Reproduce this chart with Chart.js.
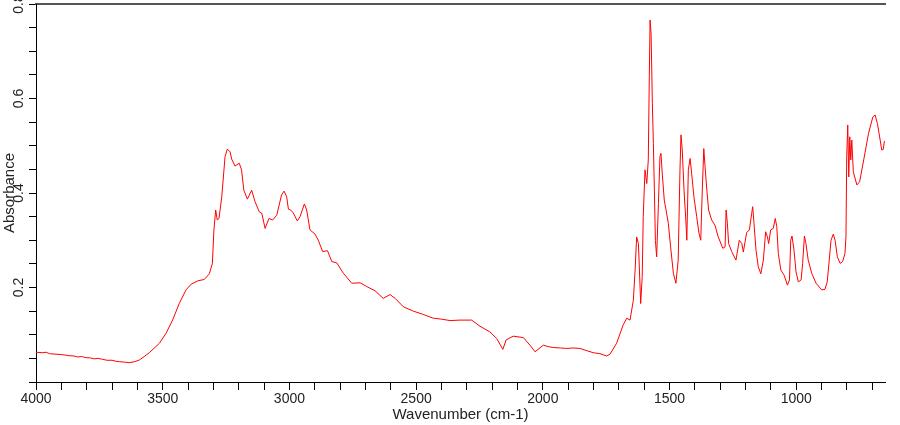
<!DOCTYPE html>
<html>
<head>
<meta charset="utf-8">
<script src="https://cdn.jsdelivr.net/npm/chart.js@4/dist/chart.umd.min.js"></script>
<style>
    body { margin: 0; background: #fff; }
    #wrap { width: 900px; height: 425px; }
</style>
</head>
<body>
<div id="wrap"><canvas id="spectrum"></canvas></div>
<script>
// wavenumber (cm-1) and absorbance
const wavenumbers = [
    4000, 3975, 3960, 3947, 3925, 3900, 3885, 3869, 3850, 3835, 3820, 3803, 3785, 3770, 3755, 3737,
    3720, 3700, 3685, 3671, 3650, 3632, 3610, 3592, 3570, 3553, 3513, 3487, 3461, 3435, 3408, 3388,
    3362, 3336, 3316, 3304, 3298, 3291, 3285, 3278, 3267, 3254, 3245, 3234, 3228, 3215, 3198, 3189,
    3180, 3166, 3149, 3136, 3119, 3109, 3096, 3081, 3066, 3050, 3031, 3021, 3011, 3004, 2995, 2985,
    2969, 2958, 2941, 2932, 2919, 2899, 2886, 2869, 2850, 2833, 2813, 2787, 2754, 2721, 2695, 2662,
    2630, 2603, 2583, 2550, 2511, 2472, 2432, 2400, 2366, 2327, 2281, 2248, 2209, 2182, 2158, 2145,
    2117, 2077, 2051, 2031, 1998, 1980, 1959, 1930, 1906, 1880, 1853, 1825, 1801, 1775, 1748, 1735,
    1709, 1683, 1669, 1656, 1643, 1636, 1630, 1623, 1619, 1614, 1608, 1604, 1597, 1590, 1584, 1580,
    1577, 1573, 1568, 1564, 1560, 1556, 1551, 1544, 1538, 1534, 1529, 1521, 1514, 1505, 1496, 1485,
    1475, 1466, 1459, 1455, 1450, 1443, 1436, 1432, 1426, 1419, 1413, 1404, 1393, 1384, 1377, 1371,
    1365, 1360, 1353, 1346, 1334, 1321, 1308, 1290, 1281, 1277, 1272, 1267, 1255, 1238, 1225, 1215,
    1209, 1196, 1185, 1176, 1172, 1167, 1159, 1150, 1140, 1130, 1121, 1114, 1109, 1101, 1091, 1083,
    1077, 1071, 1061, 1048, 1035, 1027, 1022, 1017, 1009, 1001, 992, 981, 975, 968, 962, 953,
    939, 922, 900, 887, 878, 870, 863, 854, 847, 838, 827, 817, 808, 804, 801, 797,
    793, 789, 785, 781, 775, 761, 750, 734, 715, 698, 689, 680, 669, 663, 657, 653, 650
];
const absorbance = [
    0.063, 0.062, 0.063, 0.060, 0.059, 0.058, 0.057, 0.0557, 0.055, 0.053, 0.054, 0.0515, 0.051, 0.049, 0.050, 0.048,
    0.046, 0.046, 0.044, 0.043, 0.042, 0.041, 0.043, 0.0466, 0.055, 0.062, 0.082, 0.103, 0.131, 0.166, 0.195, 0.207,
    0.214, 0.217, 0.229, 0.251, 0.322, 0.364, 0.343, 0.346, 0.392, 0.477, 0.493, 0.487, 0.472, 0.457, 0.463, 0.449,
    0.406, 0.387, 0.406, 0.382, 0.360, 0.357, 0.325, 0.346, 0.343, 0.353, 0.396, 0.404, 0.392, 0.366, 0.364, 0.358,
    0.341, 0.350, 0.377, 0.364, 0.322, 0.313, 0.300, 0.276, 0.278, 0.255, 0.252, 0.230, 0.209, 0.210, 0.202, 0.193,
    0.177, 0.185, 0.177, 0.159, 0.150, 0.143, 0.135, 0.133, 0.130, 0.131, 0.131, 0.118, 0.106, 0.092, 0.069, 0.089,
    0.097, 0.094, 0.078, 0.064, 0.078, 0.075, 0.073, 0.072, 0.071, 0.072, 0.071, 0.066, 0.062, 0.060, 0.055, 0.059,
    0.082, 0.121, 0.135, 0.131, 0.173, 0.237, 0.307, 0.293, 0.237, 0.166, 0.223, 0.350, 0.449, 0.420, 0.470, 0.646,
    0.766, 0.738, 0.590, 0.505, 0.406, 0.300, 0.265, 0.378, 0.477, 0.484, 0.442, 0.385, 0.364, 0.336, 0.286, 0.230,
    0.209, 0.258, 0.449, 0.523, 0.491, 0.406, 0.343, 0.300, 0.449, 0.473, 0.442, 0.392, 0.350, 0.315, 0.300, 0.406,
    0.494, 0.456, 0.406, 0.364, 0.343, 0.332, 0.307, 0.283, 0.286, 0.364, 0.336, 0.293, 0.276, 0.258, 0.300, 0.293,
    0.275, 0.316, 0.322, 0.357, 0.371, 0.336, 0.279, 0.244, 0.229, 0.258, 0.318, 0.307, 0.293, 0.322, 0.325, 0.346,
    0.329, 0.272, 0.237, 0.226, 0.205, 0.216, 0.300, 0.309, 0.279, 0.233, 0.212, 0.216, 0.251, 0.309, 0.293, 0.258,
    0.230, 0.209, 0.195, 0.196, 0.212, 0.258, 0.300, 0.313, 0.300, 0.265, 0.251, 0.255, 0.272, 0.307, 0.477, 0.544,
    0.434, 0.519, 0.470, 0.512, 0.445, 0.417, 0.424, 0.470, 0.526, 0.561, 0.565, 0.547, 0.512, 0.491, 0.492, 0.508, 0.510
];

const axisFont = { family: 'Liberation Sans, Arial, sans-serif', size: 14 };
const titleFont = { family: 'Liberation Sans, Arial, sans-serif', size: 15 };
const textColor = '#222';

const points = wavenumbers.map((w, i) => ({ x: w, y: absorbance[i] }));

new Chart(document.getElementById('spectrum'), {
    type: 'line',
    data: {
        datasets: [{
            data: points,
            borderColor: '#ff0000',
            borderWidth: 1,
            pointRadius: 0,
            tension: 0,
            fill: false
        }]
    },
    options: {
        responsive: true,
        maintainAspectRatio: false,
        animation: false,
        layout: { padding: { left: 0, right: 15, top: 4, bottom: 0 } },
        plugins: {
            legend: { display: false },
            tooltip: { enabled: false }
        },
        scales: {
            x: {
                type: 'linear',
                min: 650,
                max: 4000,
                reverse: true,
                border: { color: '#000', width: 1 },
                grid: { drawOnChartArea: false, drawTicks: true, tickLength: 8, color: '#000' },
                ticks: {
                    stepSize: 100,
                    includeBounds: false,
                    autoSkip: false,
                    minRotation: 0,
                    maxRotation: 0,
                    padding: 1,
                    color: textColor,
                    font: axisFont,
                    callback: v => (v % 500 === 0 ? String(v) : '')
                },
                title: {
                    display: true,
                    text: 'Wavenumber (cm-1)',
                    color: textColor,
                    font: titleFont,
                    padding: { top: 0, bottom: 1 }
                },
                afterFit: s => { s.height = 43; s.paddingLeft = 0; s.paddingRight = 0; }
            },
            x2: {
                type: 'linear',
                position: 'top',
                min: 0,
                max: 1,
                grid: { display: false, drawTicks: false },
                ticks: { display: false },
                border: { display: true, color: '#555', width: 2 },
                afterFit: s => { s.height = 0; s.paddingLeft = 0; s.paddingRight = 0; }
            },
            y: {
                min: 0,
                max: 0.8,
                border: { color: '#000', width: 1 },
                grid: { drawOnChartArea: false, drawTicks: true, tickLength: 7, color: '#000' },
                ticks: {
                    stepSize: 0.05,
                    autoSkip: false,
                    minRotation: 90,
                    maxRotation: 90,
                    crossAlign: 'center',
                    padding: 0,
                    color: textColor,
                    font: axisFont,
                    callback: v => {
                        const k = Math.round(v * 20);
                        return (k > 0 && k % 4 === 0) ? (k / 20).toFixed(1) : '';
                    }
                },
                title: {
                    display: true,
                    text: 'Absorbance',
                    color: textColor,
                    font: titleFont,
                    padding: { top: 1, bottom: 0 }
                },
                afterFit: s => { s.width = 36; s.paddingTop = 0; s.paddingBottom = 0; }
            }
        }
    }
});
</script>
</body>
</html>
